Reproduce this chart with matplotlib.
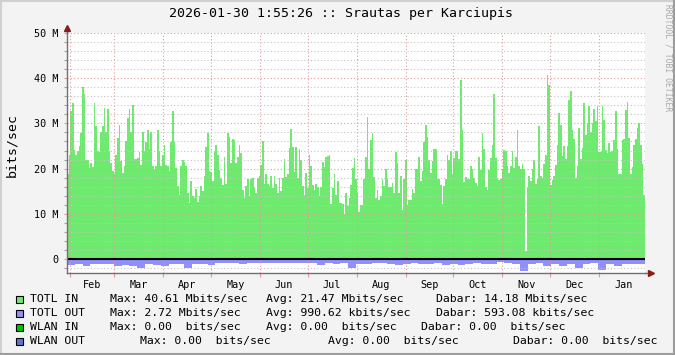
import datetime as dt
import numpy as np
import matplotlib
matplotlib.use("Agg")
import matplotlib.pyplot as plt
from matplotlib.patches import Rectangle
from matplotlib.lines import Line2D

# daily traffic, Mbits/sec
totl_in = [
    18.9, 22.9, 32.7, 34.5, 24.2, 23.1, 24.0, 24.9, 27.9, 38.0, 36.6, 22.0, 21.8, 20.1, 21.2, 20.3,
    34.5, 29.5, 24.0, 23.6, 28.1, 29.4, 33.3, 28.2, 33.2, 23.8, 21.2, 19.5, 18.7, 23.1, 26.8, 29.7,
    21.6, 19.0, 20.5, 26.0, 31.2, 33.2, 28.2, 34.1, 22.1, 22.1, 22.3, 23.6, 20.9, 28.1, 23.8, 25.9,
    28.6, 24.4, 28.2, 20.5, 19.6, 20.5, 28.6, 23.8, 20.5, 22.9, 25.3, 20.9, 20.5, 19.4, 25.8, 32.8,
    25.9, 20.1, 16.2, 14.2, 20.5, 21.8, 21.4, 20.5, 14.5, 12.4, 17.3, 13.9, 13.5, 15.5, 12.5, 14.0,
    16.2, 15.0, 18.4, 24.8, 27.9, 19.4, 19.2, 17.2, 23.6, 25.3, 23.1, 19.6, 17.9, 16.4, 22.6, 16.7,
    27.9, 27.1, 21.2, 26.5, 26.3, 21.2, 22.6, 25.3, 23.5, 15.3, 13.5, 16.1, 17.6, 13.9, 17.8, 17.9,
    15.9, 14.5, 17.9, 18.3, 20.9, 26.2, 16.7, 18.9, 16.7, 16.1, 18.3, 15.7, 18.4, 16.7, 14.7, 17.9,
    15.0, 17.9, 22.1, 18.1, 18.9, 24.6, 28.8, 24.8, 19.2, 24.7, 17.9, 24.4, 22.0, 16.1, 14.2, 19.0,
    15.7, 23.1, 20.5, 16.4, 15.3, 16.7, 15.9, 14.0, 15.9, 21.4, 20.4, 22.6, 22.7, 22.9, 12.2, 15.7,
    18.9, 14.2, 17.3, 12.4, 12.4, 12.2, 10.0, 14.6, 11.7, 13.5, 16.4, 20.1, 22.3, 17.6,
    14.5, 10.3, 12.0, 12.0, 17.6, 22.6, 31.4, 20.0, 26.4, 27.9, 18.1, 13.5, 15.2, 13.0, 13.9, 17.6,
    16.1, 19.8, 17.6, 15.9, 15.9, 16.8, 14.6, 23.6, 21.2, 14.6, 18.3, 10.9, 17.6, 22.0, 12.0, 13.1,
    13.0, 15.5, 14.7, 19.9, 19.9, 22.6, 17.2, 19.4, 25.8, 29.7, 27.0, 22.0, 19.0, 21.6, 24.3, 24.3,
    17.7, 17.7, 16.4, 12.2, 16.1, 17.6, 22.9, 21.8, 24.0, 18.7, 22.3, 24.0, 23.8, 22.1, 39.7, 28.6,
    17.0, 18.1, 17.6, 17.8, 20.5, 19.9, 17.9, 16.8, 16.1, 22.6, 19.6, 27.9, 24.3, 15.9, 15.2, 19.6,
    22.3, 25.3, 36.4, 22.3, 17.9, 17.4, 17.6, 19.9, 24.2, 23.8, 20.5, 19.0, 20.5, 23.8, 20.1, 22.6,
    28.6, 20.5, 19.9, 21.1, 19.8, 1.7, 15.9, 18.3, 17.2, 19.9, 21.8, 16.7, 17.6, 29.5, 18.4, 17.9,
    21.1, 22.9, 40.61, 38.6, 16.4, 17.4, 18.4, 20.9, 25.3, 32.3, 29.7, 22.7, 24.9, 22.1, 24.9, 35.1,
    37.1, 28.6, 26.5, 17.9, 20.5, 29.0, 22.1, 24.6, 34.5, 27.5, 30.1, 33.8, 28.0, 30.1, 33.2, 30.5,
    33.8, 23.6, 23.6, 33.8, 30.8, 24.2, 23.5, 25.7, 23.6, 23.8, 26.4, 32.7, 24.4, 18.9, 18.9, 26.4,
    26.5, 33.0, 34.7, 26.8, 18.9, 20.4, 25.3, 26.5, 29.0, 30.0, 25.3, 21.1, 14.2,
]
totl_out = [
    1.3, 1.0, 1.5, 1.1, 1.0, 1.2, 1.5, 1.4, 1.5, 2.1, 1.2, 1.3, 1.5, 1.1, 1.2, 2.0,
    1.1, 1.2, 1.4, 0.8, 0.8, 0.9, 1.0, 0.8, 0.8, 0.9, 0.8, 0.8, 0.9, 0.8, 0.8, 0.9,
    1.4, 0.9, 1.0, 0.9, 2.1,
    1.0, 1.1, 0.9, 0.9, 1.0, 1.4, 1.1, 0.9, 1.2, 1.0, 0.9, 1.4, 1.0, 1.3, 1.0, 0.9,
    1.2, 1.1, 0.6, 0.8, 1.0, 2.72, 1.0, 0.9, 1.5, 1.0, 1.5, 1.0, 1.9, 1.0, 0.9, 2.4,
    1.0, 1.5, 1.0, 1.2, 1.0,
]
month_labels = ["Feb", "Mar", "Apr", "May", "Jun", "Jul", "Aug", "Sep", "Oct", "Nov", "Dec", "Jan"]
series_names = ["TOTL IN", "TOTL OUT", "WLAN IN", "WLAN OUT"]
series_colors = ["#6EEA6E", "#8F8FFF", "#00C000", "#5B74D0"]

W, H = 675, 355
def fx(x):
    return x / W
def fy(y):
    return 1 - y / H

start = dt.datetime(2025, 1, 30, 1, 55, 26)
end = dt.datetime(2026, 1, 30, 1, 55, 26)
span = (end - start).total_seconds() / 86400
def days(d):
    return (d - start).total_seconds() / 86400

month_starts = [dt.datetime(2025, m, 1) for m in range(2, 13)] + [dt.datetime(2026, 1, 1), dt.datetime(2026, 2, 1)]
grid_pos = [days(d) for d in month_starts[:-1]]
label_pos = [(days(a) + days(b)) / 2 for a, b in zip(month_starts[:-1], month_starts[1:])]

plt.rcParams["font.family"] = "DejaVu Sans Mono"
red = "#E49A9A"
gray = "#C4C4C4"
dots = (0, (1, 2))

fig = plt.figure(figsize=(6.75, 3.55), dpi=100, facecolor="#F3F3F3")
ax = fig.add_axes([fx(67), fy(273), (645 - 67) / W, (273 - 33) / H])
ax.set_facecolor("white")

ax.stairs(totl_in, np.linspace(0, span, len(totl_in) + 1), fill=True, color=series_colors[0], lw=0, zorder=1)
ax.stairs(-np.array(totl_out), np.linspace(0, span, len(totl_out) + 1), fill=True, color=series_colors[1], lw=0, zorder=1)
ax.axhline(0, color="black", lw=1.5, zorder=3)

ax.set_xlim(0, span)
ax.set_ylim(-3.1, 50)
ax.set_xticks(label_pos, month_labels)
ax.set_xticks(grid_pos, minor=True)
ax.set_yticks(range(0, 51, 10), ["0"] + ["%d M" % v for v in range(10, 51, 10)])
ax.set_yticks(np.arange(-2, 51, 2), minor=True)
ax.tick_params(axis="x", which="major", length=0, pad=5, labelsize=7.3)
ax.tick_params(axis="x", which="minor", length=3, color=red, width=0.8)
ax.tick_params(axis="y", which="major", length=2, color=red, pad=4, labelsize=7.3)
ax.tick_params(axis="y", which="minor", length=2, color="#A0A0A0", width=0.8)
ax.set_axisbelow(False)
ax.xaxis.grid(True, which="minor", color=red, linestyle=dots, lw=0.8)
ax.yaxis.grid(True, which="major", color=red, linestyle=dots, lw=0.8)
ax.yaxis.grid(True, which="minor", color=gray, linestyle=dots, lw=0.8)
for s in ["top", "right"]:
    ax.spines[s].set_visible(False)
for s in ["left", "bottom"]:
    ax.spines[s].set_color("#707070")
    ax.spines[s].set_linewidth(1)
    ax.spines[s].set_zorder(4)

# axis arrows
ax.plot([0, 0], [1, 1.02], transform=ax.transAxes, color="#707070", lw=1, clip_on=False)
ax.plot([0], [1.02], transform=ax.transAxes, marker="^", color="#8B1A1A", ms=4.5, clip_on=False)
ax.plot([1, 1.007], [0, 0], transform=ax.transAxes, color="#707070", lw=1, clip_on=False)
ax.plot([1.01], [0], transform=ax.transAxes, marker=">", color="#8B1A1A", ms=4.5, clip_on=False)

fig.text(fx(341), fy(14), "2026-01-30 1:55:26 :: Srautas per Karciupis", fontsize=9.5, ha="center", va="center")
fig.text(fx(12), fy(145), "bits/sec", fontsize=9.5, rotation=90, ha="center", va="center")
fig.text(fx(668), fy(58), "RRDTOOL / TOBI OETIKER", fontsize=5.8, rotation=270, color="#A8A8A8", ha="center", va="center")

rows = [
    [(110, "Max: 40.61 Mbits/sec"), (266, "Avg: 21.47 Mbits/sec"), (436, "Dabar: 14.18 Mbits/sec")],
    [(110, "Max: 2.72 Mbits/sec"), (266, "Avg: 990.62 kbits/sec"), (436, "Dabar: 593.08 kbits/sec")],
    [(110, "Max: 0.00  bits/sec"), (266, "Avg: 0.00  bits/sec"), (421, "Dabar: 0.00  bits/sec")],
    [(140, "Max: 0.00  bits/sec"), (328, "Avg: 0.00  bits/sec"), (513, "Dabar: 0.00  bits/sec")],
]
for i, (name, col, parts) in enumerate(zip(series_names, series_colors, rows)):
    yc = 299 + i * 14
    fig.patches.append(Rectangle((fx(16), fy(yc + 3.5)), 7 / W, 7 / H, transform=fig.transFigure,
                                 facecolor=col, edgecolor="black", lw=0.8))
    fig.text(fx(30), fy(yc), name, fontsize=8.25, ha="left", va="center")
    for x, s in parts:
        fig.text(fx(x), fy(yc), s, fontsize=8.25, ha="left", va="center")

# frame
fig.lines.append(Line2D([0, 1], [fy(1), fy(1)], transform=fig.transFigure, color="#D0D0D0", lw=1.5))
fig.lines.append(Line2D([fx(1), fx(1)], [0, 1], transform=fig.transFigure, color="#D0D0D0", lw=1.5))
fig.lines.append(Line2D([0, 1], [fy(354), fy(354)], transform=fig.transFigure, color="#9C9C9C", lw=1.5))
fig.lines.append(Line2D([fx(674), fx(674)], [0, 1], transform=fig.transFigure, color="#9C9C9C", lw=1.5))

fig.savefig("out.png", dpi=100, facecolor=fig.get_facecolor())
